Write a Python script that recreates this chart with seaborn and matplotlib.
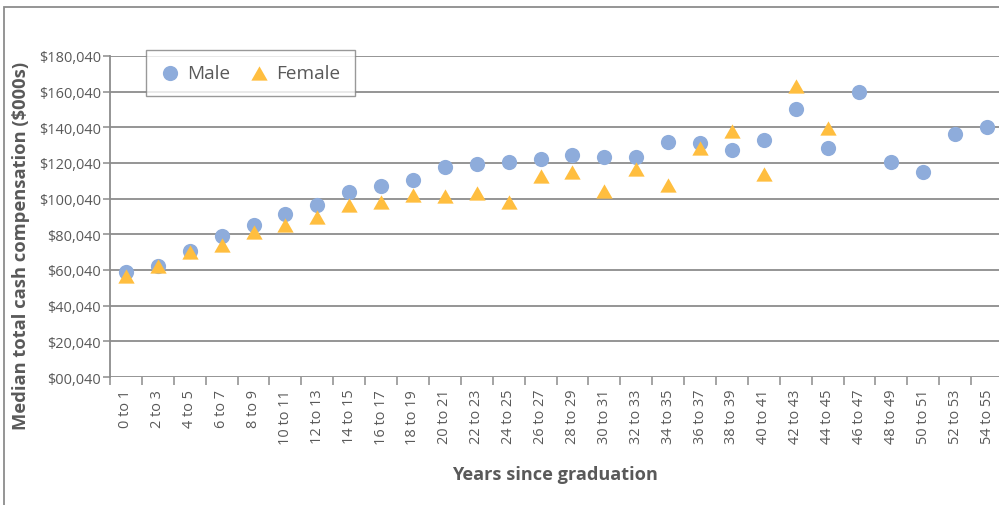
import matplotlib
matplotlib.use("Agg")
import matplotlib.pyplot as plt
import seaborn as sns
import pandas as pd
import numpy as np
from matplotlib.patches import Rectangle

categories = ["0 to 1", "2 to 3", "4 to 5", "6 to 7", "8 to 9", "10 to 11", "12 to 13",
              "14 to 15", "16 to 17", "18 to 19", "20 to 21", "22 to 23", "24 to 25",
              "26 to 27", "28 to 29", "30 to 31", "32 to 33", "34 to 35", "36 to 37",
              "38 to 39", "40 to 41", "42 to 43", "44 to 45", "46 to 47", "48 to 49",
              "50 to 51", "52 to 53", "54 to 55"]

male = [58900, 62300, 70700, 79100, 85300, 91500, 96500, 103800, 107200, 110500,
        117800, 119500, 120800, 122300, 124500, 123200, 123200, 131600, 131000,
        127300, 133100, 150300, 128400, 159700, 120600, 115100, 136100, 140000]

female = [56900, 62400, 69900, 74000, 81300, 85400, 89900, 96300, 98000, 102200,
          101500, 103200, 98000, 112500, 114800, 104100, 116600, 107600, 128400,
          137900, 113600, 163000, 139400, None, None, None, None, None]

ytick_values = [40, 20040, 40040, 60040, 80040, 100040, 120040, 140040, 160040, 180040]
ytick_labels = ["$00,040", "$20,040", "$40,040", "$60,040", "$80,040", "$100,040",
                "$120,040", "$140,040", "$160,040", "$180,040"]

male_color = "#8EACDB"
female_color = "#FFBE3F"
text_color = "#595959"
grid_color = "#8C8C8C"

sns.set_theme(style="white")
plt.rcParams["font.family"] = ["Open Sans", "DejaVu Sans"]

W, H = 999, 506
fig = plt.figure(figsize=(W / 100, H / 100), dpi=100)
left, right, top, bottom = 110, 1003, 57, 378
ax = fig.add_axes([left / W, (H - bottom) / H, (right - left) / W, (bottom - top) / H])

df_m = pd.DataFrame({"cat": categories, "value": male})
df_f = pd.DataFrame({"cat": categories, "value": female}).dropna()

tri = [(0, 7), (-8, -7), (8, -7)]
sns.scatterplot(data=df_m, x="cat", y="value", ax=ax, marker="o", s=120,
                color=male_color, linewidth=0, label="Male", zorder=3)
sns.scatterplot(data=df_f, x="cat", y="value", ax=ax, marker=tri, s=138,
                color=female_color, linewidth=0, label="Female", zorder=4)

ax.set_xlim(-0.5, len(categories) - 0.5)
ax.set_ylim(ytick_values[0], ytick_values[-1])
ax.set_yticks(ytick_values)
ax.set_yticklabels(ytick_labels)
ax.set_xticks(range(len(categories)))
ax.set_xticklabels(categories, rotation=90)
ax.set_xticks(np.arange(-0.5, len(categories), 1.0), minor=True)

for v in ytick_values:
    ax.axhline(v, color=grid_color, lw=1.3, zorder=1)

for s in ["top", "right", "bottom"]:
    ax.spines[s].set_visible(False)
ax.spines["left"].set_color(grid_color)
ax.spines["left"].set_linewidth(1.3)

renderer = fig.canvas.get_renderer()


def fitted(text_obj, target, dim):
    bb = text_obj.get_window_extent(renderer=renderer)
    cur = bb.width if dim == "w" else bb.height
    return text_obj.get_fontsize() * target / cur


ax.tick_params(axis="y", labelsize=10)
ax.tick_params(axis="x", labelsize=10)
ysize = fitted(ax.get_yticklabels()[-1], 62, "w")
xsize = fitted(ax.get_xticklabels()[5], 55, "h")

ax.tick_params(axis="y", which="major", direction="out", length=5, width=1.1,
               color=grid_color, labelsize=ysize, labelcolor=text_color, pad=1.5, left=True)
ax.tick_params(axis="x", which="major", length=0, pad=8.5, labelsize=xsize, labelcolor=text_color)
ax.tick_params(axis="x", which="minor", direction="out", length=6, width=1.1,
               color=grid_color, bottom=True)
for lbl in ax.get_xticklabels():
    lbl.set_verticalalignment("top")

ax.set_xlabel("Years since graduation", fontsize=12, fontweight="bold", color=text_color)
ax.set_ylabel("Median total cash compensation ($000s)", fontsize=12,
              fontweight="bold", color=text_color)
ax.xaxis.label.set_fontsize(fitted(ax.xaxis.label, 205, "w"))
ax.yaxis.label.set_fontsize(fitted(ax.yaxis.label, 367, "h"))
ax.xaxis.label.set_verticalalignment("center")
ax.yaxis.label.set_verticalalignment("center")
ax.xaxis.set_label_coords(555 / W, (H - 475) / H, transform=fig.transFigure)
ax.yaxis.set_label_coords(21 / W, (H - 246) / H, transform=fig.transFigure)

tmp = fig.text(0, 0, "Male", fontsize=12)
legsize = fitted(tmp, 43, "w")
tmp.remove()

leg = ax.legend(loc="upper left", bbox_to_anchor=(146 / W, (H - 51) / H),
                bbox_transform=fig.transFigure,
                ncol=2, frameon=True, fancybox=False, fontsize=legsize, handletextpad=0.4,
                columnspacing=1.05, borderpad=0.75, borderaxespad=0, handlelength=1.0,
                markerscale=1.0)
leg.get_frame().set_edgecolor("#808080")
leg.get_frame().set_linewidth(1.0)
for t in leg.get_texts():
    t.set_color(text_color)

fig.patches.append(Rectangle((3.5 / W, -0.1), 1.2, (H - 7.5) / H + 0.1,
                             transform=fig.transFigure, fill=False,
                             edgecolor="#8C8C8C", linewidth=1.3))

fig.savefig("out.png", dpi=100)
